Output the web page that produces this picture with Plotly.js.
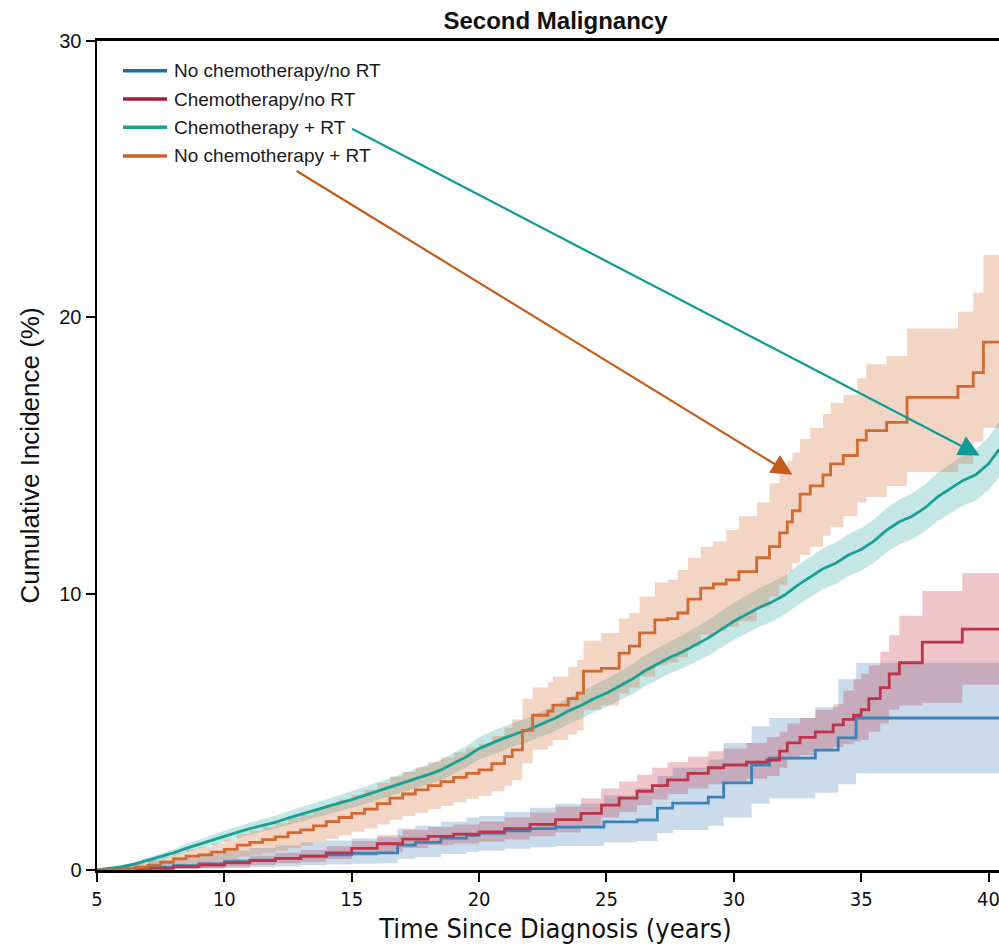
<!DOCTYPE html>
<html>
<head>
<meta charset="utf-8">
<script src="https://cdn.plot.ly/plotly-3.0.1.min.js"></script>
<style>
html,body{margin:0;padding:0;overflow:hidden;background:#fff;}
#chart{width:1020px;height:950px;}
</style>
</head>
<body>
<div id="chart"></div>
<script>
// ---------- DATA ----------
const seriesNames = ["No chemotherapy/no RT", "Chemotherapy/no RT", "Chemotherapy + RT", "No chemotherapy + RT"];

// No chemotherapy / no RT (blue)
const blueT  = [5,6,7,8,9,10,11,12,13,14,15,16,16.8,17.5,18.5,19.5,20,21,22,23,24.9,26.2,27.0,27.6,29,29.6,30.7,31.4,33.2,34.1,34.8,41];
const blueY  = [0,0.05,0.1,0.16,0.22,0.3,0.36,0.42,0.5,0.55,0.6,0.62,0.9,1.0,1.15,1.25,1.33,1.42,1.5,1.55,1.74,1.81,2.24,2.42,2.64,3.15,3.8,4.05,4.34,4.78,5.5,5.5];
const blueLo = [0,0,0,0.02,0.04,0.07,0.1,0.13,0.17,0.2,0.23,0.24,0.4,0.47,0.58,0.65,0.7,0.77,0.82,0.87,1.0,1.05,1.33,1.45,1.6,1.9,2.4,2.6,2.8,3.1,3.5,3.5];
const blueHi = [0,0.2,0.35,0.48,0.58,0.7,0.8,0.9,1.0,1.07,1.15,1.18,1.5,1.6,1.75,1.9,1.95,2.1,2.25,2.4,2.7,2.95,3.4,3.7,4.0,4.6,5.2,5.5,5.9,6.9,7.5,7.5];

// Chemotherapy / no RT (red)
const redT  = [5,6,7,8,9,10,11,12,13,14,15,16,17,18,19,20,21,22,23,24,24.8,25.5,26.2,26.8,27.4,28.2,29,29.6,30.5,31.3,31.8,32.1,32.6,33.2,33.9,34.3,34.7,35,35.3,35.75,36.1,36.5,37.4,38.97,41];
const redY  = [0,0.02,0.06,0.12,0.18,0.26,0.34,0.42,0.5,0.62,0.78,0.95,1.12,1.22,1.3,1.38,1.5,1.65,1.82,2.05,2.35,2.6,2.85,3.05,3.26,3.5,3.7,3.8,3.9,3.98,4.3,4.6,4.8,5.0,5.25,5.45,5.6,5.8,6.2,6.6,7.1,7.5,8.25,8.72,8.72];
const redLo = [0,0,0.01,0.04,0.07,0.12,0.18,0.24,0.3,0.4,0.52,0.66,0.8,0.9,0.96,1.02,1.1,1.22,1.36,1.55,1.9,2.1,2.35,2.55,2.75,2.95,3.1,3.2,3.3,3.4,3.7,4.0,4.15,4.3,4.45,4.55,4.65,4.7,5.0,5.3,5.8,5.95,6.05,6.7,6.7];
const redHi = [0,0.06,0.13,0.22,0.3,0.4,0.52,0.62,0.72,0.86,1.05,1.26,1.45,1.56,1.65,1.75,1.9,2.08,2.3,2.6,2.95,3.2,3.45,3.7,3.9,4.1,4.3,4.4,4.6,4.8,5.0,5.3,5.5,5.8,6.0,6.5,6.9,7.1,7.4,7.9,8.5,9.2,10.1,10.75,10.75];

// Chemotherapy + RT (teal)
const tealT  = [5,5.5,6,6.5,7,7.5,8,8.5,9,9.5,10,10.5,11,11.5,12,12.5,13,13.5,14,14.5,15,15.5,16,16.5,17,17.5,18,18.5,19,19.5,20,20.5,21,21.5,22,22.5,23,23.5,24,24.5,25,25.5,26,26.5,27,27.5,28,28.5,29,29.5,30,30.5,31,31.5,32,32.5,33,33.5,34,34.5,35,35.5,36,36.5,37,37.5,38,38.5,39,39.5,40,40.4,41];
const tealY  = [0,0.05,0.12,0.22,0.35,0.48,0.62,0.78,0.93,1.08,1.22,1.36,1.5,1.62,1.72,1.88,2.02,2.15,2.28,2.42,2.55,2.7,2.85,3.0,3.13,3.28,3.45,3.62,3.85,4.1,4.4,4.6,4.78,4.95,5.1,5.3,5.5,5.75,5.95,6.2,6.4,6.65,6.9,7.2,7.45,7.7,7.9,8.15,8.4,8.7,9.0,9.25,9.5,9.7,9.95,10.3,10.6,10.9,11.1,11.4,11.6,11.9,12.3,12.6,12.8,13.1,13.5,13.8,14.1,14.3,14.7,15.2,15.4];
const tealLo = [0,0.02,0.07,0.15,0.26,0.37,0.49,0.63,0.76,0.9,1.02,1.15,1.28,1.39,1.48,1.63,1.76,1.88,2.0,2.13,2.25,2.39,2.53,2.67,2.79,2.93,3.09,3.25,3.47,3.71,4.0,4.18,4.36,4.52,4.66,4.85,5.04,5.27,5.47,5.71,5.9,6.13,6.36,6.64,6.88,7.12,7.3,7.53,7.76,8.04,8.33,8.56,8.8,8.99,9.25,9.58,9.87,10.16,10.35,10.64,10.83,11.12,11.5,11.79,11.97,12.25,12.63,12.91,13.19,13.37,13.75,14.2,14.4];
const tealHi = [0,0.08,0.17,0.29,0.44,0.59,0.75,0.93,1.1,1.26,1.42,1.57,1.72,1.85,1.96,2.13,2.28,2.42,2.56,2.71,2.85,3.01,3.17,3.33,3.47,3.63,3.81,3.99,4.23,4.49,4.8,5.02,5.2,5.38,5.54,5.75,5.96,6.23,6.43,6.69,6.9,7.17,7.44,7.76,8.02,8.28,8.5,8.77,9.04,9.36,9.67,9.94,10.2,10.41,10.65,11.02,11.33,11.64,11.85,12.16,12.37,12.68,13.1,13.41,13.63,13.95,14.37,14.69,15.01,15.23,15.65,16.2,16.4];

// No chemotherapy + RT (orange)
const orangeT  = [5,6,6.5,7,7.5,8,8.5,9,9.5,10,10.5,11,11.5,12,12.5,13,13.5,14,14.5,15,15.5,16,16.5,17,17.5,18,18.5,19,19.5,20,20.5,21,21.3,21.7,22.1,22.7,22.9,23.5,23.85,24.1,24.8,25.5,25.9,26.3,26.9,27.4,27.8,28.2,28.7,29.2,29.7,30.2,30.9,31.4,31.8,32.1,32.3,32.6,33.0,33.5,33.8,34.3,34.85,35.2,36.0,36.8,38.8,39.4,39.8,41];
const orangeY  = [0,0.05,0.1,0.18,0.28,0.4,0.5,0.55,0.65,0.75,0.9,1.0,1.1,1.2,1.35,1.45,1.6,1.75,1.9,2.05,2.2,2.4,2.6,2.75,2.9,3.05,3.2,3.35,3.5,3.62,3.85,4.1,4.35,5.05,5.6,5.75,5.97,6.2,6.4,7.2,7.3,7.85,8.1,8.58,9.05,9.1,9.3,9.8,10.2,10.35,10.5,10.8,11.3,11.7,12.2,12.6,13.0,13.6,13.9,14.3,14.7,15.0,15.56,15.9,16.2,17.1,17.5,18.0,19.1,19.1];
const orangeLo = [0,0,0.02,0.05,0.1,0.17,0.22,0.25,0.3,0.38,0.48,0.55,0.62,0.7,0.8,0.88,1.0,1.12,1.25,1.38,1.5,1.65,1.82,1.95,2.07,2.2,2.32,2.45,2.58,2.68,2.85,3.05,3.25,3.85,4.35,4.5,4.7,4.9,5.05,5.8,5.95,6.4,6.6,7.0,7.4,7.5,7.7,8.1,8.5,8.65,8.8,9.0,9.5,9.9,10.3,10.8,11.1,11.4,11.7,12.1,12.4,12.8,13.3,13.5,13.9,14.4,14.7,15.5,16.0,16.7];
const orangeHi = [0,0.15,0.25,0.35,0.48,0.62,0.75,0.83,0.97,1.1,1.3,1.42,1.56,1.7,1.88,2.0,2.2,2.38,2.55,2.72,2.9,3.15,3.38,3.55,3.72,3.9,4.08,4.25,4.42,4.58,4.85,5.15,5.45,6.2,6.6,6.8,7.0,7.35,7.6,8.3,8.58,9.1,9.3,9.9,10.4,10.5,10.86,11.3,11.7,11.9,12.3,12.8,13.3,14.0,14.4,14.8,15.1,15.6,16.0,16.5,16.9,17.2,17.8,18.3,18.6,19.6,20.2,20.9,22.26,22.26];

const xTicks = [5,10,15,20,25,30,35,40];
const yTicks = [0,10,20,30];

// ---------- STYLE ----------
const lineColors   = ["#3b82b7", "#bd3347", "#17a094", "#d2692f"];
const legendColors = ["#1c6ea6", "#a81d38", "#15a08f", "#cf5f22"];
const bandColors   = ["rgba(50,120,180,0.26)", "rgba(190,40,60,0.27)", "rgba(20,160,150,0.25)", "rgba(210,100,40,0.27)"];
const lineShapes   = ['hv', 'hv', 'linear', 'hv'];
const narrow = 'DejaVu Sans Condensed, Liberation Sans Narrow, Arial Narrow, Liberation Sans, sans-serif';
const sans = 'Liberation Sans, Arial, sans-serif';

const series = [
  {t: blueT,   y: blueY,   lo: blueLo,   hi: blueHi},
  {t: redT,    y: redY,    lo: redLo,    hi: redHi},
  {t: tealT,   y: tealY,   lo: tealLo,   hi: tealHi},
  {t: orangeT, y: orangeY, lo: orangeLo, hi: orangeHi}
];

const traces = [];
[0, 1, 2, 3].forEach(i => {
  const s = series[i];
  traces.push({x: s.t, y: s.lo, mode: 'lines', line: {width: 0, shape: lineShapes[i]}, hoverinfo: 'skip', showlegend: false});
  traces.push({x: s.t, y: s.hi, mode: 'lines', line: {width: 0, shape: lineShapes[i]}, fill: 'tonexty', fillcolor: bandColors[i], hoverinfo: 'skip', showlegend: false});
});
[0, 1, 2, 3].forEach(i => {
  const s = series[i];
  traces.push({x: s.t, y: s.y, mode: 'lines', name: seriesNames[i], line: {color: lineColors[i], width: 2.8, shape: lineShapes[i]}, showlegend: false});
});

// custom legend (shapes + text)
const legendY = [28.92, 27.9, 26.88, 25.84];
const shapes = [];
const annotations = [];
seriesNames.forEach((nm, i) => {
  shapes.push({type: 'line', xref: 'x', yref: 'y', x0: 6.02, x1: 7.75, y0: legendY[i], y1: legendY[i], line: {color: legendColors[i], width: 3.5}});
  annotations.push({xref: 'x', yref: 'y', x: 7.95, y: legendY[i], text: nm, showarrow: false, xanchor: 'left', yanchor: 'middle',
    font: {family: sans, size: 19, color: '#1a1a1a'}});
});

// arrows
annotations.push({xref: 'x', yref: 'y', axref: 'x', ayref: 'y', x: 39.65, y: 15.0, ax: 14.95, ay: 26.85, text: '', showarrow: true,
  arrowhead: 2, arrowsize: 1.9, arrowwidth: 2.2, arrowcolor: '#0e9b97', standoff: 0, startstandoff: 0});
annotations.push({xref: 'x', yref: 'y', axref: 'x', ayref: 'y', x: 32.3, y: 14.3, ax: 12.78, ay: 25.33, text: '', showarrow: true,
  arrowhead: 2, arrowsize: 1.9, arrowwidth: 2.2, arrowcolor: '#c75a16', standoff: 0, startstandoff: 0});

const layout = {
  width: 1020, height: 950,
  margin: {l: 97, r: 6, t: 41, b: 80},
  paper_bgcolor: '#fff', plot_bgcolor: '#fff',
  title: {text: '<b>Second Malignancy</b>', x: 0.5, xref: 'paper', y: 1, yref: 'paper', yanchor: 'bottom', pad: {b: 12},
          font: {family: sans, size: 24, color: '#111'}},
  showlegend: false,
  xaxis: {
    range: [5, 41], tickvals: xTicks, ticktext: xTicks.map(String),
    showgrid: false, zeroline: false, showline: true, linecolor: '#000', linewidth: 3, mirror: true,
    ticks: 'outside', ticklen: 9, tickwidth: 2, tickcolor: '#000',
    tickfont: {family: narrow, size: 20, color: '#111'},
    title: {text: 'Time Since Diagnosis (years)', standoff: 10,
            font: {family: narrow, size: 27, color: '#111'}}
  },
  yaxis: {
    range: [0, 30], tickvals: yTicks, ticktext: yTicks.map(String),
    showgrid: false, zeroline: false, showline: true, linecolor: '#000', linewidth: 2.5, mirror: true,
    ticks: 'outside', ticklen: 9, tickwidth: 2, tickcolor: '#000',
    tickfont: {family: sans, size: 20, color: '#111'},
    title: {text: 'Cumulative Incidence (%)', standoff: 12,
            font: {family: sans, size: 26, color: '#111'}}
  },
  shapes: shapes,
  annotations: annotations
};

Plotly.newPlot('chart', traces, layout, {staticPlot: true, displayModeBar: false});
</script>
</body>
</html>
